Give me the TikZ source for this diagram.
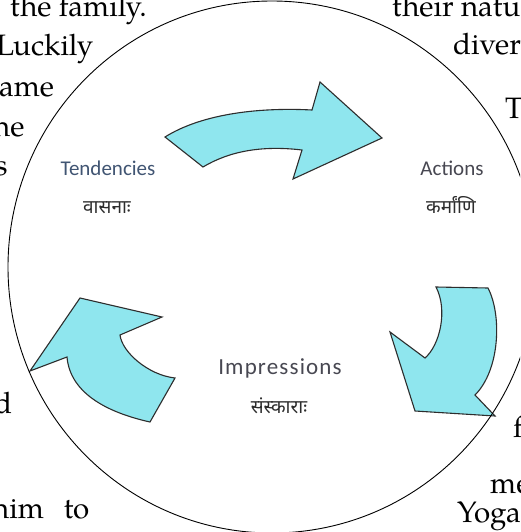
\documentclass[tikz,border=0pt]{standalone}
\usepackage{fontspec}
\setmainfont{TeX Gyre Pagella}
\newfontfamily\labelfont{Carlito}
\newfontfamily\deva[Script=Devanagari]{Noto Sans}
\definecolor{arrowfill}{RGB}{143,230,238}
\definecolor{arrowline}{RGB}{45,45,45}
\definecolor{tendcol}{RGB}{65,85,115}
\definecolor{labcol}{RGB}{72,72,82}
\definecolor{devacol}{RGB}{45,45,45}
\begin{document}
\begin{tikzpicture}[x=1pt,y=-1pt,
  bgtext/.style={anchor=base west,inner sep=0pt,font=\fontsize{29.5}{29.5}\selectfont},
  lab/.style={anchor=base,inner sep=0pt,font=\labelfont\fontsize{21}{21}\selectfont,text=labcol},
  devlab/.style={anchor=base,inner sep=0pt,font=\deva\bfseries\fontsize{19}{19}\selectfont,text=devacol},
  cyclearrow/.style={fill=arrowfill,draw=arrowline,line width=1.1pt,line join=miter}]
\useasboundingbox (0,0) rectangle (520,532);
\clip (0,0) rectangle (520,532);
% background page text
\node[bgtext] (l1) at (10,17) {the family.};
\node[bgtext] (l2) at (-4,56) {Luckily};
\node[bgtext] (l3) at (-1,96) {ame};
\node[bgtext] (l4) at (-7,136) {he};
\node[bgtext] (l5) at (-5,175) {s};
\node[bgtext] (l6) at (-6,413) {d};
\node[bgtext] (l7) at (-8,518) {him\hskip 20pt to};
\node[bgtext] (r1) at (392,17) {their natu};
\node[bgtext] (r2) at (453,55) {diver};
\node[bgtext] (r3) at (505,118) {T};
\node[bgtext] (r4) at (513,437) {f};
\node[bgtext] (r5) at (490,493) {me};
\node[bgtext] (r6) at (457,522) {Yoga};
% circle
\fill[white] (272,267) ellipse[x radius=264,y radius=266];
% arrows
\draw[cyclearrow] (165,137) .. controls (200,115) and (255,107) .. (312,110)
  -- (320,82) -- (382,138) -- (293,179) -- (302,150)
  .. controls (260,145) and (228,152) .. (203,167) -- cycle;
\draw[cyclearrow] (436,287) -- (488,288)
  .. controls (502,315) and (500,370) .. (475,395)
  -- (495,416) -- (415,411) -- (390,332) -- (425,358)
  .. controls (440,345) and (448,310) .. (436,287) -- cycle;
\draw[cyclearrow] (80,298) -- (162,317) -- (120,335)
  .. controls (122,352) and (148,375) .. (175,378)
  -- (150,422) .. controls (105,412) and (70,392) .. (67,357)
  -- (30,371) -- cycle;
\draw[black,line width=0.9pt] (272,267) ellipse[x radius=264,y radius=266];
% labels
\node[lab,text=tendcol] (tend) at (108,175) {Tendencies};
\node[devlab] (tendd) at (107,213) {वासनाः};
\node[lab] (act) at (452,175) {Actions};
\node[devlab] (actd) at (451,213) {कर्मांणि};
\node[lab,font=\labelfont\fontsize{23}{23}\selectfont\addfontfeature{LetterSpace=5}] (imp) at (280,374) {Impressions};
\node[devlab] (impd) at (279,413) {संस्काराः};
\end{tikzpicture}
\end{document}
